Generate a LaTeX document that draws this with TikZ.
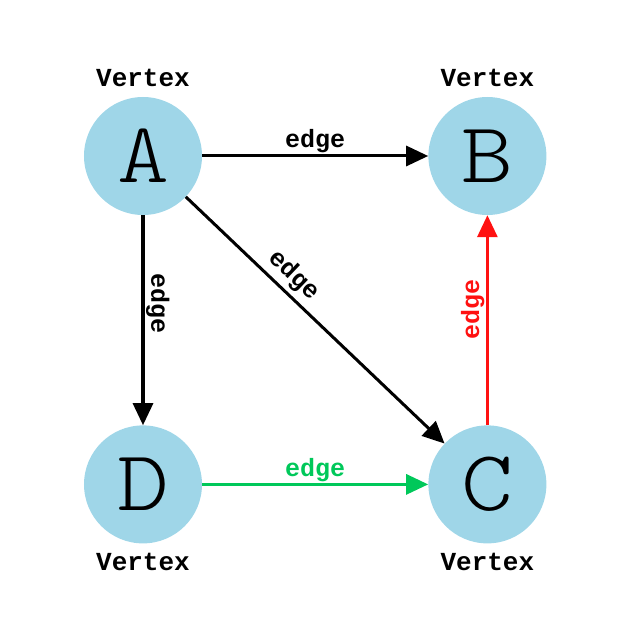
\documentclass[tikz,border=0pt]{standalone}
\usepackage{fontspec}
\newfontfamily\edgefont{Liberation Mono}
\newfontfamily\letterfont[FakeStretch=1.15]{Latin Modern Mono Light}
\usetikzlibrary{arrows.meta,positioning}
\definecolor{vertexblue}{RGB}{159,214,232}
\definecolor{edgered}{RGB}{255,17,17}
\definecolor{edgegreen}{RGB}{0,200,90}

\begin{document}
\begin{tikzpicture}[
        vertex/.style={circle, fill=vertexblue, inner sep=0pt, minimum size=118pt, font=\letterfont\fontsize{86}{86}\selectfont},
        vtx/.style={font=\edgefont\bfseries\fontsize{26}{26}\selectfont, inner sep=0pt, label distance=9.5pt},
        link/.style={line width=3pt, -{Triangle[length=22pt,width=20pt]}},
        tag/.style={font=\edgefont\bfseries\fontsize{25}{25}\selectfont, inner sep=1.5pt, sloped, above}]
        \useasboundingbox (-143pt,156pt) rectangle (497pt,-470pt);
        \draw node[vertex, label={[vtx]above:Vertex}] (a) {A};
        \draw node[vertex, right = 226pt of a, label={[vtx]above:Vertex}] (b) {B};
        \draw node[vertex, below = 210pt of a, label={[vtx]below:Vertex}] (d) {D};
        \draw node[vertex, below = 210pt of b, label={[vtx]below:Vertex}] (c) {C};
        \draw (a) edge[link] node[tag] {edge} (b);
        \draw (a) edge[link] node[tag, pos=.42] {edge} (d);
        \draw (a) edge[link] node[tag, pos=.37, inner sep=4pt] {edge} (c);
        \draw (c) edge[link, color=edgered] node[tag, pos=.55] {edge} (b);
        \draw (d) edge[link, color=edgegreen] node[tag] {edge} (c);
      \end{tikzpicture}
\end{document}
